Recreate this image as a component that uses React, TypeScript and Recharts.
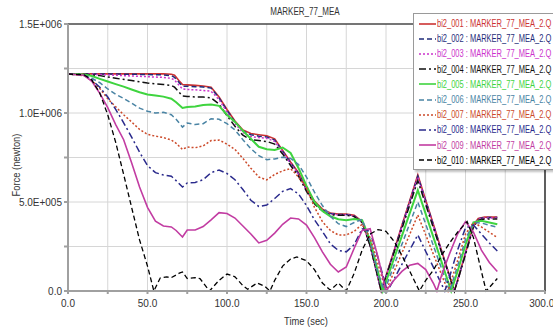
import React from 'react'
import { LineChart, Line, XAxis, YAxis, CartesianGrid, ReferenceLine } from 'recharts'

type Pt = [number, number]

// [time (sec), force (kN)]
const bi2_001: Pt[] = [[0,1220],[60,1220],[65,1218],[67,1212],[70,1180],[72,1160],[75,1158],[80,1155],[85,1152],[90,1145],[95,1090],[100,1020],[105,955],[110,905],[115,885],[120,878],[125,872],[130,855],[135,790],[140,725],[145,665],[150,575],[155,505],[160,460],[165,438],[170,433],[175,433],[180,425],[185,390],[190,260],[195,75],[197,0],[200,85],[205,225],[210,370],[215,510],[220,652],[225,510],[230,370],[235,225],[240,85],[243,0],[245,60],[250,215],[255,370],[258,408],[262,415],[270,415]]
const bi2_002: Pt[] = [[0,1219],[30,1219],[45,1217],[60,1214],[65,1210],[67,1200],[70,1170],[72,1150],[75,1150],[80,1148],[85,1146],[90,1140],[95,1085],[100,1015],[105,950],[110,900],[115,878],[120,870],[125,865],[130,848],[135,785],[140,720],[145,660],[150,570],[155,500],[160,455],[165,435],[170,430],[175,430],[180,422],[185,388],[190,258],[195,72],[197,0],[200,82],[205,222],[210,365],[215,505],[220,645],[225,505],[230,365],[235,222],[240,82],[243,0],[245,58],[250,212],[255,368],[258,406],[262,413],[270,413]]
const bi2_003: Pt[] = [[0,1219],[15,1218],[30,1212],[45,1206],[60,1200],[65,1195],[67,1185],[70,1155],[72,1135],[75,1132],[80,1130],[85,1127],[90,1122],[95,1075],[100,1005],[105,940],[110,890],[115,868],[120,862],[125,858],[130,840],[135,780],[140,715],[145,655],[150,565],[155,495],[160,452],[165,432],[170,428],[175,428],[180,420],[185,385],[190,255],[195,70],[197,0],[200,80],[205,220],[210,360],[215,500],[220,640],[225,500],[230,360],[235,220],[240,80],[243,0],[245,58],[250,210],[255,365],[258,404],[262,410],[270,410]]
const bi2_004: Pt[] = [[0,1219],[10,1218],[20,1210],[30,1195],[40,1182],[50,1168],[60,1160],[65,1155],[67,1145],[70,1115],[72,1095],[75,1093],[80,1090],[85,1090],[90,1085],[95,1050],[100,985],[105,925],[110,875],[115,850],[120,845],[125,840],[130,825],[135,770],[140,705],[145,645],[150,560],[155,490],[160,448],[165,428],[170,425],[175,425],[180,418],[185,385],[190,255],[195,75],[197,0],[200,80],[205,215],[210,350],[215,485],[220,620],[225,485],[230,350],[235,215],[240,80],[243,0],[245,55],[250,205],[255,360],[258,398],[262,405],[270,405]]
const bi2_005: Pt[] = [[0,1219],[10,1217],[15,1208],[20,1192],[25,1177],[30,1162],[35,1148],[40,1132],[45,1117],[50,1104],[55,1098],[60,1092],[65,1080],[68,1060],[72,1028],[75,1034],[80,1036],[85,1045],[90,1048],[95,1040],[100,990],[105,950],[110,900],[115,855],[120,810],[125,796],[130,792],[135,806],[140,775],[145,690],[150,590],[155,500],[160,450],[165,420],[170,403],[175,398],[180,405],[185,398],[190,285],[195,105],[198,0],[200,52],[205,181],[210,310],[215,439],[220,567],[225,432],[230,297],[235,162],[240,27],[241,0],[245,110],[250,260],[255,385],[260,395],[265,385],[270,375]]
const bi2_006: Pt[] = [[0,1219],[10,1212],[15,1195],[20,1170],[25,1135],[30,1105],[35,1082],[40,1055],[45,1027],[50,1010],[55,1000],[60,1004],[65,990],[68,965],[72,921],[75,944],[80,935],[85,940],[90,968],[95,965],[100,940],[105,905],[110,850],[115,800],[120,760],[125,738],[130,742],[135,752],[140,745],[145,710],[150,640],[155,555],[160,480],[165,420],[170,378],[175,362],[180,385],[185,402],[190,280],[195,100],[199,0],[200,24],[205,143],[210,262],[215,381],[220,500],[225,375],[230,250],[235,125],[240,0],[245,140],[250,290],[255,385],[260,382],[265,370],[270,358]]
const bi2_007: Pt[] = [[0,1219],[10,1210],[15,1182],[20,1138],[25,1080],[30,1035],[35,990],[40,950],[45,908],[50,880],[55,870],[60,862],[65,848],[68,830],[72,795],[75,809],[80,805],[85,815],[90,845],[95,848],[100,825],[105,795],[110,745],[115,690],[120,640],[125,624],[130,655],[135,675],[140,688],[145,640],[150,580],[155,470],[160,390],[165,340],[170,315],[175,315],[180,335],[185,375],[190,300],[195,150],[200,0],[205,107],[210,213],[215,320],[220,427],[225,315],[230,202],[235,90],[239,0],[240,30],[245,170],[250,320],[255,385],[260,360],[265,330],[270,300]]
const bi2_008: Pt[] = [[0,1219],[10,1212],[15,1185],[20,1145],[25,1090],[30,1020],[35,945],[40,865],[45,780],[50,705],[55,665],[60,652],[65,645],[68,620],[72,584],[75,607],[80,610],[85,625],[90,665],[95,680],[100,660],[105,625],[110,570],[115,510],[120,475],[125,483],[130,520],[135,560],[140,575],[145,545],[150,480],[155,400],[160,335],[165,265],[170,228],[175,220],[180,260],[185,350],[190,335],[195,185],[200,25],[201,0],[205,66],[210,150],[215,232],[220,315],[225,222],[230,130],[235,37],[237,0],[240,80],[245,230],[250,355],[255,370],[260,320],[265,270],[270,225]]
const bi2_009: Pt[] = [[0,1219],[10,1212],[15,1178],[20,1110],[25,1030],[30,935],[35,850],[40,720],[45,584],[50,470],[55,392],[60,365],[65,360],[68,340],[72,303],[75,343],[80,343],[85,362],[90,400],[95,440],[100,435],[105,410],[110,365],[115,320],[120,270],[125,285],[130,325],[135,375],[140,410],[145,405],[150,370],[155,300],[160,220],[165,150],[170,107],[175,135],[180,240],[185,340],[190,350],[195,190],[200,0],[205,60],[210,110],[215,145],[220,155],[225,120],[230,40],[232,0],[235,90],[240,210],[245,320],[250,390],[255,330],[260,230],[265,160],[270,110]]
const bi2_010: Pt[] = [[0,1219],[10,1215],[15,1185],[20,1112],[25,990],[30,835],[35,655],[40,470],[45,287],[50,140],[54,0],[58,73],[62,79],[65,75],[70,100],[72,107],[75,70],[80,75],[83,70],[89,0],[95,60],[100,95],[105,80],[110,30],[113,10],[119,45],[124,25],[127,0],[130,60],[135,140],[140,180],[144,191],[150,170],[155,120],[160,45],[165,5],[170,45],[175,0],[180,100],[185,230],[190,320],[195,345],[200,335],[205,280],[210,200],[215,110],[221,0],[225,60],[230,120],[235,200],[240,270],[245,330],[251,390],[255,300],[260,110],[263,0],[265,20],[270,70]]

const xTicks = [0, 25, 50, 75, 100, 125, 150, 175, 200, 225, 250, 275, 300]
const yTicks = [0, 250000, 500000, 750000, 1000000, 1250000, 1500000]

const DASHED = '5 3'
const DOTTED = '2 2'
const DASHDOT = '7 3 2 3'

const series = [
  { name: 'bi2_001', pts: bi2_001, color: '#cc3333', dash: undefined, w: 1.6 },
  { name: 'bi2_002', pts: bi2_002, color: '#1f2d7a', dash: DASHED, w: 1.5 },
  { name: 'bi2_003', pts: bi2_003, color: '#cc33cc', dash: DOTTED, w: 1.5 },
  { name: 'bi2_004', pts: bi2_004, color: '#111111', dash: DASHDOT, w: 1.5 },
  { name: 'bi2_005', pts: bi2_005, color: '#3fd43f', dash: undefined, w: 2 },
  { name: 'bi2_006', pts: bi2_006, color: '#4a84a4', dash: DASHED, w: 1.5 },
  { name: 'bi2_007', pts: bi2_007, color: '#cc4a2a', dash: DOTTED, w: 1.5 },
  { name: 'bi2_008', pts: bi2_008, color: '#2a2a8c', dash: DASHDOT, w: 1.5 },
  { name: 'bi2_009', pts: bi2_009, color: '#c23ca2', dash: undefined, w: 1.6 },
  { name: 'bi2_010', pts: bi2_010, color: '#000000', dash: DASHED, w: 1.3 },
]

const toData = (pts: Pt[]) => pts.map(([t, f]) => ({ t, f: f * 1000 }))

const FONT = "'Liberation Sans', Arial, sans-serif"

const fmtY = (v: number) => {
  if (v === 0) return '0.0'
  if (v % 500000 !== 0) return ''
  const [m, e] = v.toExponential(1).toUpperCase().split('E')
  const exp = e.replace('+', '').padStart(3, '0')
  return `${m}E+${exp}`
}
const fmtX = (v: number) => (v % 50 === 0 ? v.toFixed(1) : '')

// narrow text like the original (no condensed font installed)
const narrow = (scale: number, origin = 'left center'): React.CSSProperties => ({
  display: 'inline-block', transform: `scaleX(${scale})`, transformOrigin: origin,
})

function LegendBox() {
  return (
    <div
      style={{
        position: 'absolute', left: 413, top: 13, width: 170, height: 157,
        background: '#fff', border: '1px solid #9a9a9a', boxShadow: '2px 2px 2px rgba(0,0,0,0.25)',
        paddingTop: 2, boxSizing: 'border-box', fontFamily: FONT, fontSize: 10,
      }}
    >
      {series.map((s) => (
        <div key={s.name} style={{ height: 15.2, display: 'flex', alignItems: 'center', whiteSpace: 'nowrap' }}>
          <svg width={17} height={8} style={{ marginLeft: 5, flex: 'none' }}>
            <line x1={0} y1={4} x2={17} y2={4} stroke={s.color} strokeWidth={1.6} strokeDasharray={s.dash} />
          </svg>
          <span style={{ ...narrow(0.75), color: s.color, marginLeft: 1 }}>{s.name} : MARKER_77_MEA_2.Q</span>
        </div>
      ))}
    </div>
  )
}

export default function App() {
  return (
    <div style={{ position: 'absolute', left: 0, top: 0, width: 553, height: 331, overflow: 'hidden', background: '#fff' }}>
      <LineChart width={553} height={331} margin={{ top: 24, right: 8, bottom: 0, left: 0 }}>
        <CartesianGrid stroke="#d6d6d6" />
        <XAxis
          dataKey="t"
          type="number"
          domain={[0, 300]}
          ticks={xTicks}
          tickFormatter={fmtX}
          height={40}
          allowDuplicatedCategory={false}
          stroke="#a0a0a0"
          strokeWidth={2}
          tickSize={3}
          tickMargin={6}
          tick={{ fill: '#333', fontSize: 10, fontFamily: FONT }}
        />
        <YAxis
          dataKey="f"
          type="number"
          domain={[0, 1500000]}
          ticks={yTicks}
          tickFormatter={fmtY}
          width={68}
          stroke="#a0a0a0"
          strokeWidth={2}
          tickSize={4}
          tickMargin={2}
          tick={{ fill: '#333', fontSize: 10, fontFamily: FONT }}
        />
        <ReferenceLine y={1500000} stroke="#000" strokeWidth={1.2} />
        <ReferenceLine x={300} stroke="#000" strokeWidth={1.2} />
        {series.map((s) => (
          <Line
            key={s.name}
            data={toData(s.pts)}
            dataKey="f"
            name={s.name}
            type="linear"
            stroke={s.color}
            strokeWidth={s.w}
            strokeDasharray={s.dash}
            dot={false}
            isAnimationActive={false}
          />
        ))}
      </LineChart>
      <div style={{ position: 'absolute', left: 305, top: 11, transform: 'translate(-50%, -50%) scaleX(0.8)', fontFamily: FONT, fontSize: 10, color: '#333', whiteSpace: 'nowrap' }}>
        MARKER_77_MEA
      </div>
      <div style={{ position: 'absolute', left: 306, top: 321, transform: 'translate(-50%, -50%) scaleX(0.85)', fontFamily: FONT, fontSize: 11, color: '#333', whiteSpace: 'nowrap' }}>
        Time (sec)
      </div>
      <div style={{ position: 'absolute', left: 16, top: 165, transform: 'translate(-50%, -50%) rotate(-90deg) scaleX(0.85)', fontFamily: FONT, fontSize: 11, color: '#333', whiteSpace: 'nowrap' }}>
        Force (newton)
      </div>
      <LegendBox />
    </div>
  )
}
